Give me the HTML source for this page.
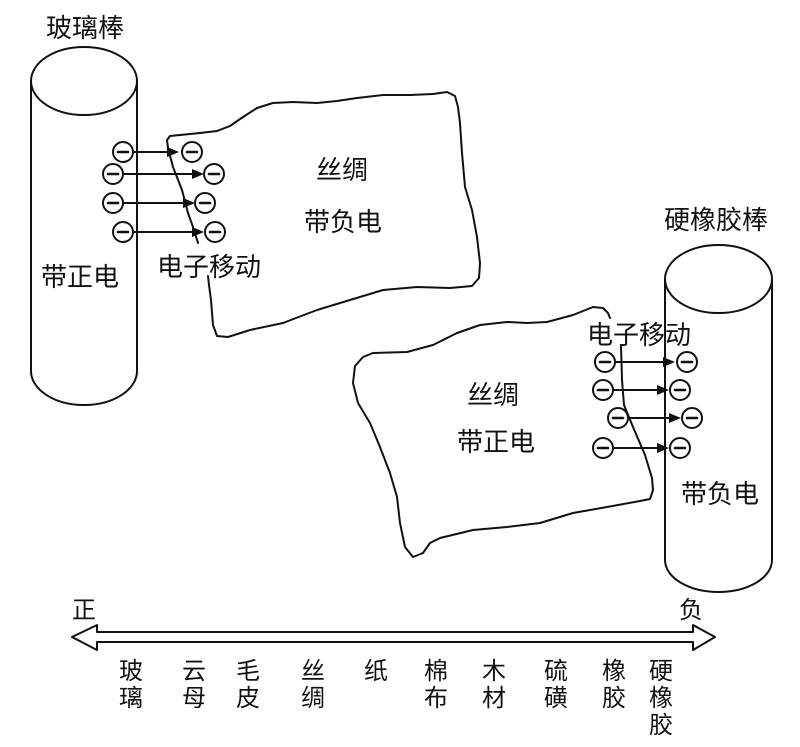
<!DOCTYPE html>
<html><head><meta charset="utf-8"><style>
html,body{margin:0;padding:0;background:#fff;}
svg{display:block;}
text{font-family:"Liberation Sans","Noto Sans CJK SC",sans-serif;fill:#111;}
</style></head><body>
<svg width="800" height="747" viewBox="0 0 800 747" xmlns="http://www.w3.org/2000/svg">
<g fill="none" stroke="#111" stroke-width="2" stroke-linejoin="round" stroke-linecap="round">
<!-- left rod -->
<ellipse cx="84" cy="81" rx="53" ry="34"/>
<path d="M31 81 L31 371 A53 34 0 0 0 137 371 L137 81"/>
<!-- right rod -->
<ellipse cx="718.5" cy="279" rx="53.5" ry="34"/>
<path d="M665 279 L665 560 A53.5 32 0 0 0 772 560 L772 279"/>
<!-- top silk -->
<path d="M198 243 L193 227 L188 213 L182 190 L173 167 L168 148 L167 140 L170 136 L180 135 L200 133 L217 131 L230 126 L243 117 L257 108 L273 103 L293 102 L317 103 L337 101 L357 98 L383 95 L410 95 L433 94 L447 92 L455 96 L458 107 L460 123 L462 153 L465 187 L472 210 L477 237 L480 263 L479 278 L472 286 L450 288 L417 287 L383 290 L350 300 L317 310 L283 323 L250 330 L228 337 L217 336 L213 325 L211 300 L209 285 L208 276"/>
<!-- bottom silk -->
<path d="M610 318 L608 313 L603 308 L593 307 L573 315 L547 322 L527 323 L507 322 L480 325 L457 333 L433 345 L407 352 L373 353 L363 357 L355 366 L353 383 L358 403 L370 423 L380 447 L390 473 L397 497 L400 523 L405 547 L413 557 L423 553 L430 543 L440 538 L473 530 L507 527 L540 523 L573 513 L607 507 L640 501 L650 499 L653 490 L652 478 L645 455 L633 427 L624 405 L622 380 L621 346"/>
<!-- bottom axis double arrow -->
<path d="M72 637 L97 625 L97 632 L693 632 L693 625 L715 637 L693 650 L693 642 L97 642 L97 650 Z"/>
</g>

<!-- electrons left -->
<g fill="#fff" stroke="#111" stroke-width="2">
<circle cx="123" cy="152" r="10"/><circle cx="113" cy="174" r="10"/><circle cx="113" cy="203" r="10"/><circle cx="123" cy="232" r="10"/>
<circle cx="192" cy="152" r="10"/><circle cx="214" cy="174" r="10"/><circle cx="205" cy="203" r="10"/><circle cx="215" cy="232" r="10"/>
<circle cx="605" cy="362" r="10"/><circle cx="603" cy="390" r="10"/><circle cx="618" cy="418" r="10"/><circle cx="603" cy="448" r="10"/>
<circle cx="687" cy="362" r="10"/><circle cx="680" cy="390" r="10"/><circle cx="692" cy="418" r="10"/><circle cx="680" cy="448" r="10"/>
</g>
<g stroke="#111" stroke-width="2.6" stroke-linecap="round">
<line x1="118" y1="152" x2="128" y2="152"/><line x1="108" y1="174" x2="118" y2="174"/><line x1="108" y1="203" x2="118" y2="203"/><line x1="118" y1="232" x2="128" y2="232"/>
<line x1="187" y1="152" x2="197" y2="152"/><line x1="209" y1="174" x2="219" y2="174"/><line x1="200" y1="203" x2="210" y2="203"/><line x1="210" y1="232" x2="220" y2="232"/>
<line x1="600" y1="362" x2="610" y2="362"/><line x1="598" y1="390" x2="608" y2="390"/><line x1="613" y1="418" x2="623" y2="418"/><line x1="598" y1="448" x2="608" y2="448"/>
<line x1="682" y1="362" x2="692" y2="362"/><line x1="675" y1="390" x2="685" y2="390"/><line x1="687" y1="418" x2="697" y2="418"/><line x1="675" y1="448" x2="685" y2="448"/>
</g>
<!-- arrows -->
<g stroke="#111" stroke-width="2">
<line x1="133" y1="152" x2="170" y2="152"/>
<line x1="123" y1="174" x2="195" y2="174"/>
<line x1="123" y1="203" x2="186" y2="203"/>
<line x1="133" y1="232" x2="195" y2="232"/>
<line x1="615" y1="362" x2="665" y2="362"/>
<line x1="613" y1="390" x2="659" y2="390"/>
<line x1="628" y1="418" x2="671" y2="418"/>
<line x1="613" y1="448" x2="659" y2="448"/>
</g>
<g fill="#111">
<polygon points="179,152 167,147 167,157"/>
<polygon points="204,174 192,169 192,179"/>
<polygon points="195,203 183,198 183,208"/>
<polygon points="204,232 192,227 192,237"/>
<polygon points="675,362 663,357 663,367"/>
<polygon points="669,390 657,385 657,395"/>
<polygon points="681,418 669,413 669,423"/>
<polygon points="669,448 657,443 657,453"/>
</g>

<!-- labels -->
<g font-size="26">
<text x="46" y="37">玻璃棒</text>
<text x="41" y="286">带正电</text>
<text x="157" y="276">电子移动</text>
<text x="316" y="179">丝绸</text>
<text x="304" y="231">带负电</text>
<text x="664" y="229">硬橡胶棒</text>
<text x="587" y="344">电子移动</text>
<text x="467" y="404">丝绸</text>
<text x="457" y="451">带正电</text>
<text x="681" y="503">带负电</text>
</g>
<g font-size="24">
<text x="72" y="618">正</text>
<text x="679" y="618">负</text>
<text x="119" y="679">玻</text><text x="119" y="706">璃</text>
<text x="182" y="679">云</text><text x="182" y="706">母</text>
<text x="236" y="679">毛</text><text x="236" y="706">皮</text>
<text x="301" y="679">丝</text><text x="301" y="706">绸</text>
<text x="364" y="679">纸</text>
<text x="424" y="679">棉</text><text x="424" y="706">布</text>
<text x="482" y="679">木</text><text x="482" y="706">材</text>
<text x="544" y="679">硫</text><text x="544" y="706">磺</text>
<text x="602" y="679">橡</text><text x="602" y="706">胶</text>
<text x="649" y="679">硬</text><text x="649" y="706">橡</text><text x="649" y="733">胶</text>
</g>
</svg>
</body></html>
